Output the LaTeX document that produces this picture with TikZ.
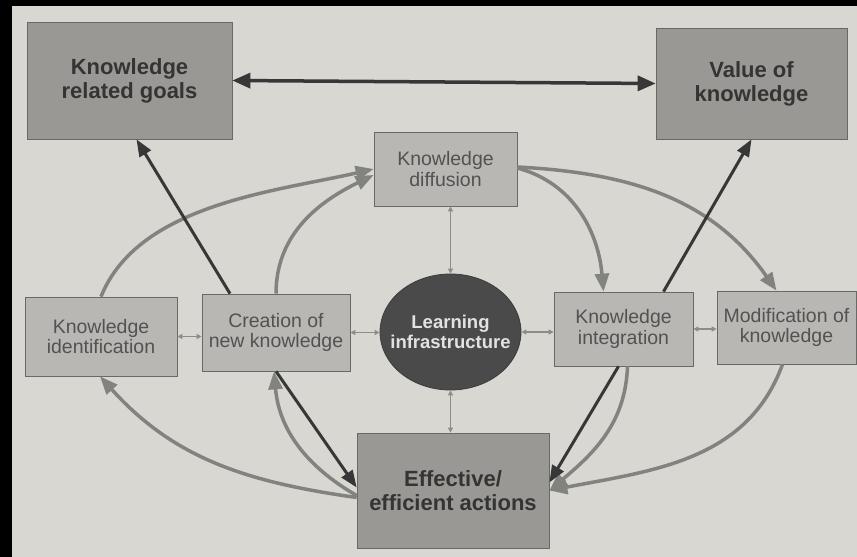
\documentclass[tikz,border=0pt]{standalone}
\usepackage{fontspec}
\setmainfont{Liberation Sans}
\usetikzlibrary{arrows.meta,shapes.geometric,calc}
\definecolor{pagebg}{RGB}{216,215,210}
\definecolor{lightbox}{RGB}{184,183,179}
\definecolor{darkbox}{RGB}{153,152,148}
\definecolor{boxedge}{RGB}{105,105,103}
\definecolor{ellfill}{RGB}{74,74,74}
\definecolor{txtlight}{RGB}{82,82,82}
\definecolor{txtdark}{RGB}{52,52,52}
\definecolor{txtell}{RGB}{226,226,224}
\definecolor{greyarrow}{RGB}{130,130,127}
\definecolor{darkarrow}{RGB}{55,55,55}
\definecolor{smallarrow}{RGB}{140,140,137}
\begin{document}
\begin{tikzpicture}[x=1pt,y=1pt,
  lbox/.style={draw=boxedge, line width=0.7pt, fill=lightbox, text=txtlight, align=center, inner sep=0pt,
    font=\fontsize{19.5}{20.5}\selectfont},
  dbox/.style={draw=boxedge, line width=0.7pt, fill=darkbox, text=txtdark, align=center, inner sep=0pt,
    font=\fontsize{22}{24}\selectfont\bfseries},
  ellnode/.style={ellipse, draw=ellfill!80!black, line width=0.8pt, fill=ellfill, text=txtell, align=center,
    inner xsep=-11pt, inner ysep=0pt, font=\fontsize{18.5}{19.5}\selectfont\bfseries},
  darkarr/.style={draw=darkarrow, line width=3pt, -{Triangle[length=17pt,width=13pt]}},
  darkboth/.style={draw=darkarrow, line width=3.5pt, {Triangle[length=18pt,width=15pt]}-{Triangle[length=18pt,width=15pt]}},
  greyarr/.style={draw=greyarrow, line width=3.5pt, -{Triangle[length=18pt,width=14pt]}},
  smallarr/.style={draw=smallarrow, line width=1.3pt, {Triangle[length=5pt,width=5pt]}-{Triangle[length=5pt,width=5pt]}}
]
\fill[pagebg] (0,0) rectangle (857,557);
\useasboundingbox (0,0) rectangle (857,557);
\fill[black] (0,0) rectangle (12,557);
\fill[black] (0,551) rectangle (857,557);

\node[dbox, minimum width=205pt, minimum height=117pt] (goals) at (129.5,476.5) {Knowledge\\related goals};
\node[dbox, minimum width=191pt, minimum height=111pt] (value) at (751.5,473.5) {Value of\\knowledge};
\node[lbox, minimum width=143pt, minimum height=74pt] (diff) at (445.5,388) {Knowledge\\diffusion};
\node[ellnode, minimum width=141pt, minimum height=116pt] (learn) at (450.5,225) {Learning\\infrastructure};
\node[lbox, minimum width=152pt, minimum height=79pt] (ident) at (101,220.5) {Knowledge\\identification};
\node[lbox, minimum width=148pt, minimum height=77pt] (create) at (276,224.5) {Creation of\\new knowledge};
\node[lbox, minimum width=139pt, minimum height=74pt] (integ) at (623.5,228) {Knowledge\\integration};
\node[lbox, minimum width=139pt, minimum height=73pt] (modif) at (786.5,229.5) {Modification of\\knowledge};
\node[dbox, minimum width=192pt, minimum height=115pt] (effect) at (453,66.5) {Effective/\\efficient actions};

% grey curved arrows
\draw[greyarr] (ident.north) to[out=68,in=193,looseness=0.85] (diff.west);
\draw[greyarr] (create.north) to[out=90,in=206] ([yshift=-6pt]diff.west);
\draw[greyarr] ([yshift=1pt]diff.east) to[out=-15,in=95] ([xshift=-20pt]integ.north);
\draw[greyarr] ([yshift=2pt]diff.east) to[out=-3,in=125] ([xshift=-10pt]modif.north);
\draw[greyarr] ([yshift=-7pt]effect.west) to[out=172,in=-48] ([xshift=-1pt]ident.south);
\draw[greyarr] ([yshift=-5pt]effect.west) to[out=150,in=-85] ([xshift=-2pt]create.south);
\draw[greyarr] ([xshift=4pt]integ.south) to[out=-92,in=40] (effect.east);
\draw[greyarr] ([xshift=-4pt]modif.south) to[out=-110,in=11] (effect.east);

% dark straight arrows
\draw[darkboth] (goals.east) -- (value.west);
\draw[darkarr] ([xshift=-46pt]create.north) -- ([xshift=7pt]goals.south);
\draw[darkarr] ([xshift=40pt]integ.north) -- (value.south);
\draw[darkarr] (create.south) -- ([yshift=3pt]effect.west);
\draw[darkarr] ([xshift=-5pt]integ.south) -- ([yshift=8pt]effect.east);

% small two-way arrows
\draw[smallarr] (ident.east) -- (ident.east -| create.west);
\draw[smallarr] (create.east) -- (create.east -| learn.west);
\draw[smallarr] (learn.east) -- (learn.east -| integ.west);
\draw[smallarr] (integ.east) -- (integ.east -| modif.west);
\draw[smallarr] (learn.north |- diff.south) -- (learn.north);
\draw[smallarr] (learn.south) -- (learn.south |- effect.north);
\end{tikzpicture}
\end{document}
